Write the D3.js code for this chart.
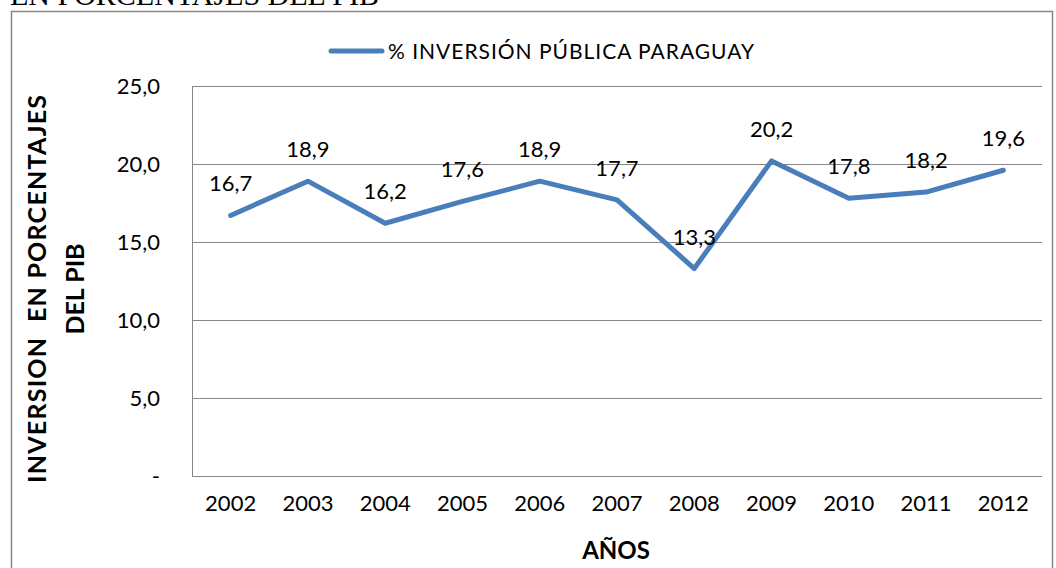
<!DOCTYPE html>
<html>
<head>
<meta charset="utf-8">
<script src="https://cdn.jsdelivr.net/npm/d3@7"></script>
<style>
  body { margin: 0; background: #fff; }
  svg { display: block; }
</style>
</head>
<body>
<svg id="chart"></svg>
<script>
const years = ["2002", "2003", "2004", "2005", "2006", "2007", "2008", "2009", "2010", "2011", "2012"];
const inversion = [16.7, 18.9, 16.2, 17.6, 18.9, 17.7, 13.3, 20.2, 17.8, 18.2, 19.6];
const yTicks = [0, 5, 10, 15, 20, 25];
const seriesName = "% INVERSIÓN PÚBLICA PARAGUAY";

const width = 1056;
const height = 568;
const margin = { top: 86, right: 14, bottom: 92, left: 192 };
const font = "Lato, 'Open Sans', sans-serif";
const blue = "#4a7ebb";
const grey = "#868686";

const fmt = (v) => v === 0 ? "-" : d3.format(".1f")(v).replace(".", ",");

const svg = d3.select("#chart").attr("width", width).attr("height", height);

// title of the page above, cut by the top edge
svg.append("text")
  .attr("x", 10)
  .attr("y", 5)
  .style("font-family", "'Liberation Serif', serif")
  .style("font-size", "30px")
  .text("EN PORCENTAJES DEL PIB");

// outer chart frame
svg.append("rect")
  .attr("x", 11.5).attr("y", 11.5)
  .attr("width", 1041).attr("height", 570)
  .attr("fill", "none").attr("stroke", grey).attr("stroke-width", 1.5);

const x = d3.scaleBand()
  .domain(years)
  .range([margin.left, width - margin.right]);

const y = d3.scaleLinear()
  .domain([0, 25])
  .range([height - margin.bottom, margin.top]);

// gridlines
svg.append("g")
  .selectAll("line")
  .data(yTicks)
  .enter()
  .append("line")
  .attr("x1", margin.left)
  .attr("x2", width - margin.right)
  .attr("y1", (d) => Math.round(y(d)) + 0.5)
  .attr("y2", (d) => Math.round(y(d)) + 0.5)
  .attr("stroke", grey)
  .attr("stroke-width", 1);

// plot frame left
svg.append("line")
  .attr("x1", margin.left + 0.5).attr("x2", margin.left + 0.5)
  .attr("y1", y(25)).attr("y2", y(0))
  .attr("stroke", grey);

// y tick labels
svg.append("g")
  .selectAll("text")
  .data(yTicks)
  .enter()
  .append("text")
  .attr("x", 160)
  .attr("y", (d) => y(d))
  .attr("dy", "0.36em")
  .attr("text-anchor", "end")
  .style("font-family", font)
  .style("font-size", "22px")
  .text(fmt);

// x tick labels
svg.append("g")
  .selectAll("text")
  .data(years)
  .enter()
  .append("text")
  .attr("x", (d) => x(d) + x.bandwidth() / 2)
  .attr("y", 511)
  .attr("text-anchor", "middle")
  .style("font-family", font)
  .style("font-size", "22px")
  .text((d) => d);

// line
const line = d3.line()
  .x((d, i) => x(years[i]) + x.bandwidth() / 2)
  .y((d) => y(d));

svg.append("path")
  .datum(inversion)
  .attr("d", line)
  .attr("fill", "none")
  .attr("stroke", blue)
  .attr("stroke-width", 5)
  .attr("stroke-linejoin", "round")
  .attr("stroke-linecap", "round");

// data labels
svg.append("g")
  .selectAll("text")
  .data(inversion)
  .enter()
  .append("text")
  .attr("x", (d, i) => x(years[i]) + x.bandwidth() / 2)
  .attr("y", (d) => y(d) - 24)
  .attr("text-anchor", "middle")
  .style("font-family", font)
  .style("font-size", "22px")
  .text(fmt);

// legend
svg.append("line")
  .attr("x1", 331).attr("x2", 382)
  .attr("y1", 51).attr("y2", 51)
  .attr("stroke", blue).attr("stroke-width", 5)
  .attr("stroke-linecap", "round");

svg.append("text")
  .attr("x", 388)
  .attr("y", 59)
  .style("font-family", font)
  .style("font-size", "21px")
  .attr("textLength", 366)
  .attr("lengthAdjust", "spacing")
  .text(seriesName);

// axis titles
const yTitle = svg.append("text")
  .attr("transform", "translate(0, 289) rotate(-90)")
  .attr("text-anchor", "middle")
  .style("font-family", font)
  .style("font-size", "25px")
  .style("font-weight", "bold");
yTitle.append("tspan").attr("x", 0).attr("y", 46).attr("textLength", 388)
  .text("INVERSION\u00a0\u00a0EN PORCENTAJES");
yTitle.append("tspan").attr("x", 0).attr("y", 84).text("DEL PIB");

svg.append("text")
  .attr("x", 616)
  .attr("y", 559)
  .attr("text-anchor", "middle")
  .style("font-family", font)
  .style("font-size", "24px")
  .style("font-weight", "bold")
  .text("AÑOS");
</script>
</body>
</html>
